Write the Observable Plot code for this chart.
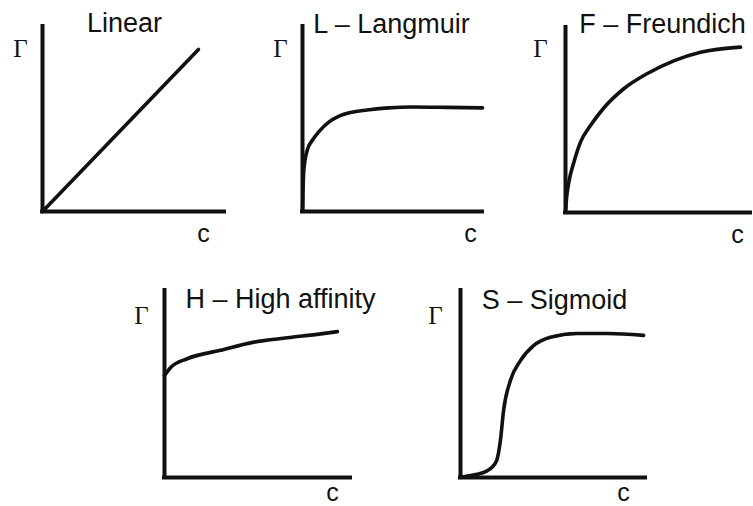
<!DOCTYPE html>
<html>
<head>
<meta charset="utf-8">
<script src="https://cdn.jsdelivr.net/npm/d3@7"></script>
<script src="https://cdn.jsdelivr.net/npm/@observablehq/plot@0.6"></script>
<style>
  html, body { margin: 0; padding: 0; background: #fff; }
  #chart { position: relative; width: 753px; height: 506px; overflow: hidden; background: #fff; }
  #chart svg { position: absolute; left: 0; top: 0; }
</style>
</head>
<body>
<div id="chart"></div>
<script>
// ---- data (normalised concentration c and surface excess Γ) ----
const panelTitles = ["Linear", "L \u2013 Langmuir", "F \u2013 Freundich", "H \u2013 High affinity", "S \u2013 Sigmoid"];
const yLabel = "\u0393";
const xLabel = "c";

const linearC = [0, 0.857];
const linearG = [0, 0.876];

const langmuirC = [0, 0.003, 0.007, 0.026, 0.054, 0.09, 0.146, 0.20, 0.276, 0.37, 0.48, 0.61, 0.80, 1.0];
const langmuirG = [0, 0.12, 0.22, 0.33, 0.384, 0.43, 0.483, 0.514, 0.537, 0.55, 0.56, 0.565, 0.563, 0.56];

const freundC = [0, 0.006, 0.018, 0.045, 0.081, 0.135, 0.207, 0.315, 0.44, 0.585, 0.73, 0.946];
const freundG = [0, 0.08, 0.164, 0.27, 0.38, 0.47, 0.565, 0.669, 0.75, 0.82, 0.866, 0.894];

const highC = [0, 0.032, 0.122, 0.30, 0.48, 0.66, 0.84, 0.93];
const highG = [0.545, 0.587, 0.635, 0.68, 0.724, 0.747, 0.768, 0.78];

const sigmoidC = [0, 0.054, 0.146, 0.195, 0.216, 0.233, 0.27, 0.324, 0.395, 0.486, 0.63, 0.795, 0.99];
const sigmoidG = [0, 0.01, 0.037, 0.09, 0.2, 0.36, 0.52, 0.625, 0.705, 0.75, 0.77, 0.77, 0.76];

const series = [
  [linearC, linearG],
  [langmuirC, langmuirG],
  [freundC, freundG],
  [highC, highG],
  [sigmoidC, sigmoidG]
];

// ---- layout (pixel frame of each small panel) ----
const W = 753, H = 506;
const layout = [
  {ox: 42,  oy: 211, w: 182, h: 185, tdx: 82,  tdy: 5,  gdx: -22, gdy: 22, cdx: -21, cdy: 22, curve: "linear"},
  {ox: 302, oy: 211, w: 180, h: 185, tdx: 89,  tdy: 6,  gdx: -22, gdy: 22, cdx: -12, cdy: 22, curve: "monotone-x"},
  {ox: 565, oy: 212, w: 185, h: 185, tdx: 97,  tdy: 5,  gdx: -25, gdy: 21, cdx: -13, cdy: 22, curve: "monotone-x"},
  {ox: 164, oy: 477, w: 186, h: 187, tdx: 116, tdy: 17, gdx: -23, gdy: 25, cdx: -18, cdy: 15, curve: "monotone-x"},
  {ox: 460, oy: 477, w: 185, h: 187, tdx: 94,  tdy: 18, gdx: -25, gdy: 25, cdx: -22, cdy: 15, curve: "monotone-x"}
];

const ink = "#111";
const sans = "'Liberation Sans', Arial, Helvetica, sans-serif";
const serif = "'Liberation Serif', 'Times New Roman', serif";
const chart = document.getElementById("chart");

series.forEach(([cs, gs], i) => {
  const L = layout[i];
  const pts = cs.map((c, k) => ({c, g: gs[k]}));
  const svg = Plot.plot({
    width: W,
    height: H,
    marginLeft: L.ox,
    marginRight: W - L.ox - L.w,
    marginTop: L.oy - L.h,
    marginBottom: H - L.oy,
    style: {background: "transparent", overflow: "visible"},
    x: {domain: [0, 1], axis: null},
    y: {domain: [0, 1], axis: null},
    marks: [
      Plot.ruleY([0], {x1: 0, x2: 1, stroke: ink, strokeWidth: 4, strokeLinecap: "square"}),
      Plot.ruleX([0], {y1: 0, y2: 1, stroke: ink, strokeWidth: 4, strokeLinecap: "square"}),
      Plot.line(pts, {x: "c", y: "g", stroke: ink, strokeWidth: 3.6, curve: L.curve, strokeLinecap: "round", strokeLinejoin: "round"}),
      Plot.text([panelTitles[i]], {
        frameAnchor: "top-left", dx: L.tdx, dy: L.tdy, text: d => d,
        textAnchor: "middle", lineAnchor: "bottom",
        fontSize: 27, fontFamily: sans, fill: ink
      }),
      Plot.text([yLabel], {
        frameAnchor: "top-left", dx: L.gdx, dy: L.gdy, text: d => d,
        textAnchor: "middle", lineAnchor: "middle",
        fontSize: 25, fontFamily: serif, fill: ink
      }),
      Plot.text([xLabel], {
        frameAnchor: "bottom-right", dx: L.cdx, dy: L.cdy, text: d => d,
        textAnchor: "middle", lineAnchor: "middle",
        fontSize: 25, fontFamily: sans, fill: ink
      })
    ]
  });
  chart.appendChild(svg);
});
</script>
</body>
</html>
